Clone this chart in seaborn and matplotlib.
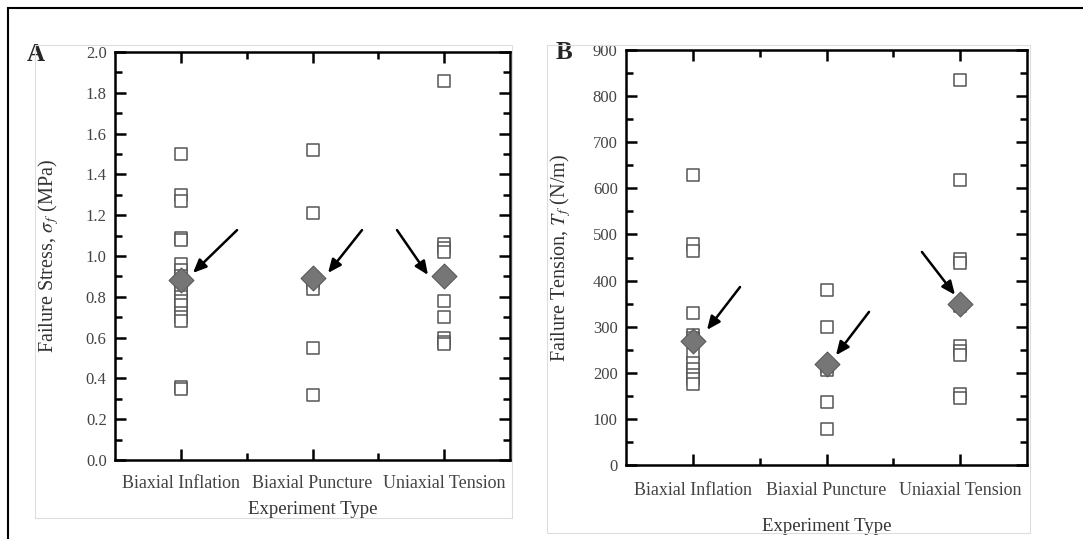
import seaborn as sns
import matplotlib.pyplot as plt
import matplotlib.patches as mpatches
from matplotlib.ticker import MultipleLocator, FixedLocator
import pandas as pd

categories = ['Biaxial Inflation', 'Biaxial Puncture', 'Uniaxial Tension']

# panel A - failure stress (MPa)
stress_inflation = [1.50, 1.30, 1.27, 1.09, 1.08, 0.96, 0.93, 0.90, 0.86, 0.83,
                    0.80, 0.78, 0.76, 0.72, 0.70, 0.68, 0.36, 0.35]
stress_puncture = [1.52, 1.21, 0.87, 0.84, 0.55, 0.32]
stress_uniaxial = [1.86, 1.06, 1.04, 1.02, 0.78, 0.70, 0.60, 0.58, 0.57]
stress_mean = [0.88, 0.89, 0.90]

# panel B - failure tension (N/m)
tension_inflation = [630, 480, 465, 330, 282, 276, 240, 222, 208, 196, 186, 176]
tension_puncture = [380, 300, 213, 207, 137, 78]
tension_uniaxial = [835, 617, 447, 438, 345, 258, 247, 238, 155, 145]
tension_mean = [268, 220, 350]


def to_frame(groups):
    rows = []
    for cat, vals in zip(categories, groups):
        rows += [(cat, v) for v in vals]
    return pd.DataFrame(rows, columns=['type', 'value'])


sns.set_style('white')
plt.rcParams['font.family'] = ['Liberation Serif', 'DejaVu Serif']
plt.rcParams['mathtext.fontset'] = 'stix'

fig = plt.figure(figsize=(10.83, 5.39), dpi=100)

# outer border and faint inner frames
fig.add_artist(mpatches.Rectangle((8 / 1083, -0.1), 1.2, (531 / 539) + 0.1,
                                  transform=fig.transFigure, fill=False,
                                  edgecolor='black', linewidth=1.5))
fig.add_artist(mpatches.Rectangle((35 / 1083, 21 / 539), 477 / 1083, 473 / 539,
                                  transform=fig.transFigure, fill=False,
                                  edgecolor='#dddddd', linewidth=0.8))
fig.add_artist(mpatches.Rectangle((547 / 1083, 6 / 539), 483 / 1083, 488 / 539,
                                  transform=fig.transFigure, fill=False,
                                  edgecolor='#dddddd', linewidth=0.8))

axA = fig.add_axes([115 / 1083, 79 / 539, 395 / 1083, 408 / 539])
axB = fig.add_axes([626 / 1083, 74 / 539, 401 / 1083, 415 / 539])

panels = [
    (axA, to_frame([stress_inflation, stress_puncture, stress_uniaxial]), stress_mean,
     (0, 2.0), 0.2, 0.1, r'Failure Stress, $\sigma_{\,f}$ (MPa)', 'A', -0.2,
     [((0.427, 1.127), (0.092, 0.917)), ((1.376, 1.127), (1.118, 0.917)),
      ((1.642, 1.127), (1.877, 0.907))]),
    (axB, to_frame([tension_inflation, tension_puncture, tension_uniaxial]), tension_mean,
     (0, 900), 100, 50, r'Failure Tension, $T_f$ (N/m)', 'B', -0.155,
     [((0.353, 386), (0.106, 293)), ((1.318, 332), (1.071, 238)),
      ((1.714, 462), (1.961, 369))]),
]

for ax, df, means, ylim, major, minor, ylabel, tag, tag_x, arrows in panels:
    sns.stripplot(data=df, x='type', y='value', order=categories, jitter=False,
                  marker='s', size=8, color='white', edgecolor='#555555',
                  linewidth=1.1, ax=ax, zorder=3)
    sns.scatterplot(x=categories, y=means, marker='D', s=160, color='#767676',
                    edgecolor='#5a5a5a', linewidth=0.8, ax=ax, zorder=4, legend=False)
    for start, end in arrows:
        ax.annotate('', xy=end, xytext=start,
                    arrowprops=dict(arrowstyle='-|>,head_length=0.8,head_width=0.35',
                                    color='black', lw=1.8, shrinkA=0, shrinkB=0))
    ax.set_xlim(-0.5, 2.5)
    ax.set_ylim(*ylim)
    ax.yaxis.set_major_locator(MultipleLocator(major))
    ax.yaxis.set_minor_locator(MultipleLocator(minor))
    ax.xaxis.set_minor_locator(FixedLocator([0.5, 1.5]))
    ax.tick_params(which='both', direction='in', top=True, right=True,
                   bottom=True, left=True, width=1.8, colors='black',
                   labelcolor='#444444')
    ax.tick_params(axis='y', labelsize=12, pad=6)
    ax.tick_params(axis='x', labelsize=13)
    ax.tick_params(which='major', length=8)
    ax.tick_params(which='minor', length=5)
    if tag == 'A':
        ax.yaxis.set_major_formatter(plt.FuncFormatter(lambda v, p: f'{v:.1f}'))
    for side in ax.spines.values():
        side.set_linewidth(1.8)
        side.set_color('black')
    ax.set_xlabel('Experiment Type', fontsize=13.5, color='#333333')
    ax.set_ylabel(ylabel, fontsize=14.5, color='#333333')
    ax.text(tag_x, 0.995, tag, transform=ax.transAxes,
            fontsize=18, fontweight='bold', ha='center', va='center')

axA.tick_params(axis='x', which='major', pad=11)
axB.tick_params(axis='x', which='major', pad=12)
axA.xaxis.labelpad = 6
axA.yaxis.labelpad = 18
axB.xaxis.labelpad = 14
axB.yaxis.labelpad = 14

fig.savefig('out.png', dpi=100)
